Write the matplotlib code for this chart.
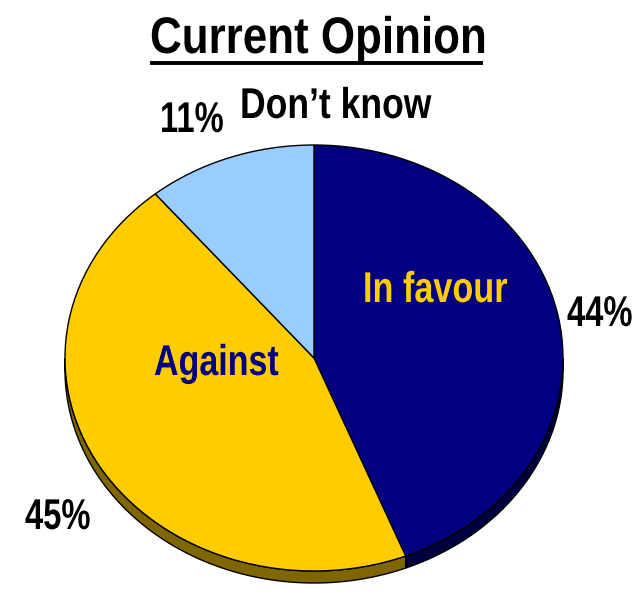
import numpy as np
import matplotlib
matplotlib.use("Agg")
import matplotlib.pyplot as plt
from matplotlib.patches import Wedge, Polygon
from matplotlib.transforms import Affine2D
from matplotlib.patheffects import AbstractPathEffect

plt.rcParams['font.family'] = ['Liberation Sans', 'DejaVu Sans']

labels = ["In favour", "Against", "Don\u2019t know"]
shares = [44, 45, 11]
top_colors = ["#000080", "#FFCC00", "#99CCFF"]
side_colors = ["#000040", "#806600", "#4C6680"]
inside_colors = ["#FFCC00", "#000080", None]


class Tall(AbstractPathEffect):
    """Stretch glyphs vertically about the baseline (gives a condensed look)."""

    def __init__(self, sy):
        super().__init__()
        self.sy = sy

    def draw_path(self, renderer, gc, tpath, affine, rgbFace=None):
        renderer.draw_path(gc, tpath, Affine2D().scale(1, self.sy) + affine, rgbFace)


def narrow_text(x, y, s, size, squeeze, **kw):
    # lay out at the squeezed size, then stretch back up to full height
    return ax.text(x, y, s, fontsize=size * squeeze, fontweight="bold",
                   va="baseline", path_effects=[Tall(1 / squeeze)], **kw)


fig = plt.figure(figsize=(6.36, 5.91), dpi=100)
ax = fig.add_axes([0, 0, 1, 1])
ax.set_xlim(0, 636)
ax.set_ylim(591, 0)
ax.axis("off")

# pie geometry in pixels
cx, cy, rx, ry = 314, 358, 249, 213
depth = 12 / ry
pie_tf = Affine2D().scale(rx, -ry).translate(cx, cy) + ax.transData

# wedge angles: start at 12 o'clock, go clockwise
fracs = np.array(shares) / sum(shares)
ends = 90 - 360 * np.cumsum(fracs)
starts = np.concatenate([[90], ends[:-1]])

# side wall (front half only)
for a_start, a_end, col in zip(starts, ends, side_colors):
    lo, hi = a_end, a_start
    for k in (-360, 0, 360):
        t0 = max(lo + k, 180)
        t1 = min(hi + k, 360)
        if t1 <= t0:
            continue
        t = np.radians(np.linspace(t0, t1, 120))
        top = np.column_stack([np.cos(t), np.sin(t)])
        bot = np.column_stack([np.cos(t), np.sin(t) - depth])[::-1]
        ax.add_patch(Polygon(np.vstack([top, bot]), closed=True, fc=col,
                             ec="black", lw=1, transform=pie_tf, zorder=1))

# top face
for a_start, a_end, col in zip(starts, ends, top_colors):
    ax.add_patch(Wedge((0, 0), 1, a_end, a_start, fc=col, ec="black",
                       lw=1, transform=pie_tf, zorder=2))

# title
narrow_text(150, 53, "Current Opinion", 37, 0.855, ha="left", color="black")
ax.plot([150, 483], [62.5, 62.5], color="black", lw=2.8, solid_capstyle="butt")

# labels
narrow_text(240, 118, labels[2], 31, 0.825, ha="left", color="black", zorder=5)
narrow_text(363, 302, labels[0], 31, 0.795, ha="left", color=inside_colors[0], zorder=5)
narrow_text(154, 375, labels[1], 31, 0.79, ha="left", color=inside_colors[1], zorder=5)

# percentages
narrow_text(160, 132, f"{shares[2]}%", 31, 0.76, ha="left", color="black", zorder=5)
narrow_text(567, 326, f"{shares[0]}%", 31, 0.76, ha="left", color="black", zorder=5)
narrow_text(25, 529, f"{shares[1]}%", 31, 0.76, ha="left", color="black", zorder=5)

fig.savefig("out.png", dpi=100)
